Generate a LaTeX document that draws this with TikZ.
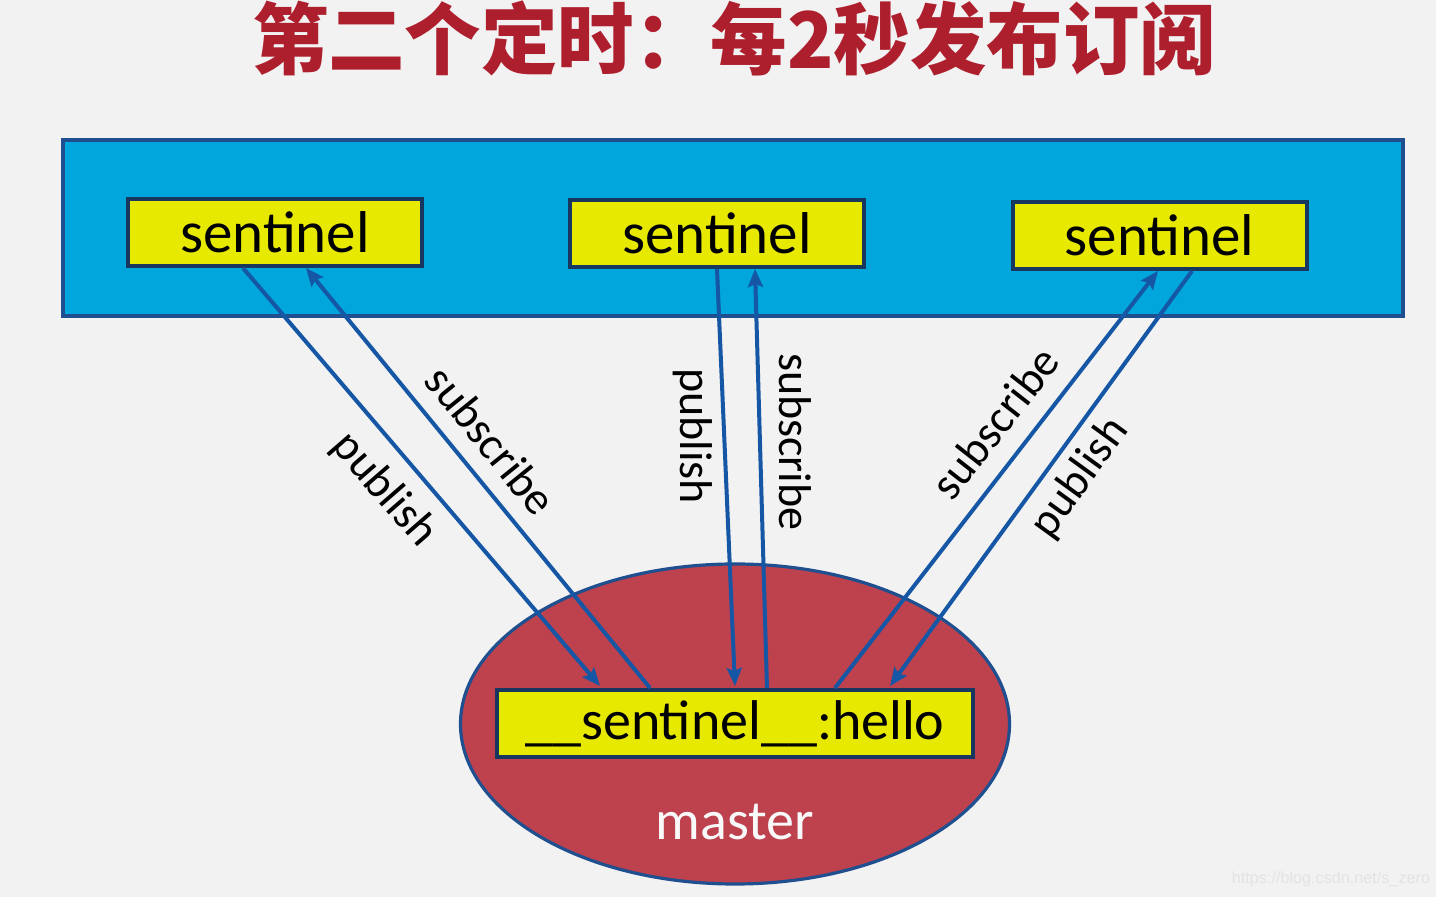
\documentclass[tikz,border=0pt]{standalone}
\usepackage{fontspec}
\setmainfont{Carlito}
\newfontfamily\cjk{Noto Sans CJK SC}
\newfontfamily\wmfont{Liberation Sans}
\usetikzlibrary{arrows.meta,calc,shapes.geometric}
\definecolor{bgc}{HTML}{F2F2F2}
\definecolor{panelc}{HTML}{00A6DC}
\definecolor{panelb}{HTML}{1F4F8F}
\definecolor{yel}{HTML}{E8E900}
\definecolor{navy}{HTML}{17375E}
\definecolor{redc}{HTML}{BE414E}
\definecolor{arrc}{HTML}{1556A5}
\definecolor{titc}{HTML}{AE1F2E}
\tikzset{
  sbox/.style={draw=navy, line width=2pt, fill=yel, inner sep=0pt,
    minimum width=147pt, minimum height=33.5pt, font=\fontsize{29.5}{31}\selectfont},
  hbox/.style={sbox, minimum width=238pt, font=\fontsize{28}{30}\selectfont},
  conn/.style={draw=arrc, line width=2pt, -{Stealth[length=9pt,width=7.5pt,inset=1.5pt]}},
  lbl/.style={font=\fontsize{23}{25}\selectfont, inner sep=0pt}
}
\begin{document}
\begin{tikzpicture}[x=0.5pt,y=-0.5pt]
\fill[bgc] (0,0) rectangle (1436,897);
\useasboundingbox (0,0) rectangle (1436,897);
% title
\node[text=titc, font=\cjk\bfseries\fontsize{39}{42}\selectfont, xscale=0.98, inner sep=0pt] (title) at (734,38) {第二个定时：每2秒发布订阅};
% panel
\node[draw=panelb, line width=1.6pt, fill=panelc, minimum width=670pt, minimum height=88pt, inner sep=0pt] (panel) at (733,228) {};
\node[sbox] (s1) at (275,232.5) {sentinel};
\node[sbox] (s2) at (717,233.5) {sentinel};
\node[sbox] (s3) at (1159.5,235.5) {sentinel};
% master
\node[ellipse, draw=panelb, line width=1.6pt, fill=redc, minimum width=274.5pt, minimum height=160pt, inner sep=0pt] (m) at (735,724) {};
\node[hbox] (h) at (735,723.5) {\_\_sentinel\_\_:hello};
\node[text=white!95!gray, font=\fontsize{28}{30}\selectfont, inner sep=0pt] (mt) at (735,822) {master};
% connectors
\draw[conn] ($(s1.south)+(-32,0)$) -- ($(h.north)+(-135,-2)$);
\draw[conn] ($(h.north)+(-85,0)$) -- ($(s1.south)+(31,0)$);
\draw[conn] (s2.south) -- ($(h.north)+(0,-2)$);
\draw[conn] ($(h.north)+(32,0)$) -- ($(s2.south)+(38,0)$);
\draw[conn] ($(h.north)+(100,0)$) -- ($(s3.south)+(-1.5,0)$);
\draw[conn] ($(s3.south)+(32.5,0)$) -- ($(h.north)+(155,-2)$);
% labels
\node[lbl, rotate=-49] (l1) at (384,490) {publish};
\node[lbl, rotate=-51] (l2) at (491,440) {subscribe};
\node[lbl, rotate=-90] (l3) at (693,436) {publish};
\node[lbl, rotate=-90] (l4) at (795,442) {subscribe};
\node[lbl, rotate=52] (l5) at (995,423) {subscribe};
\node[lbl, rotate=54] (l6) at (1080,478) {publish};
% watermark
\node[text=black!11, font=\wmfont\fontsize{8.1}{9}\selectfont, inner sep=0pt] (wm) at (1331,879) {https://blog.csdn.net/s\_zero};
\end{tikzpicture}
\end{document}
